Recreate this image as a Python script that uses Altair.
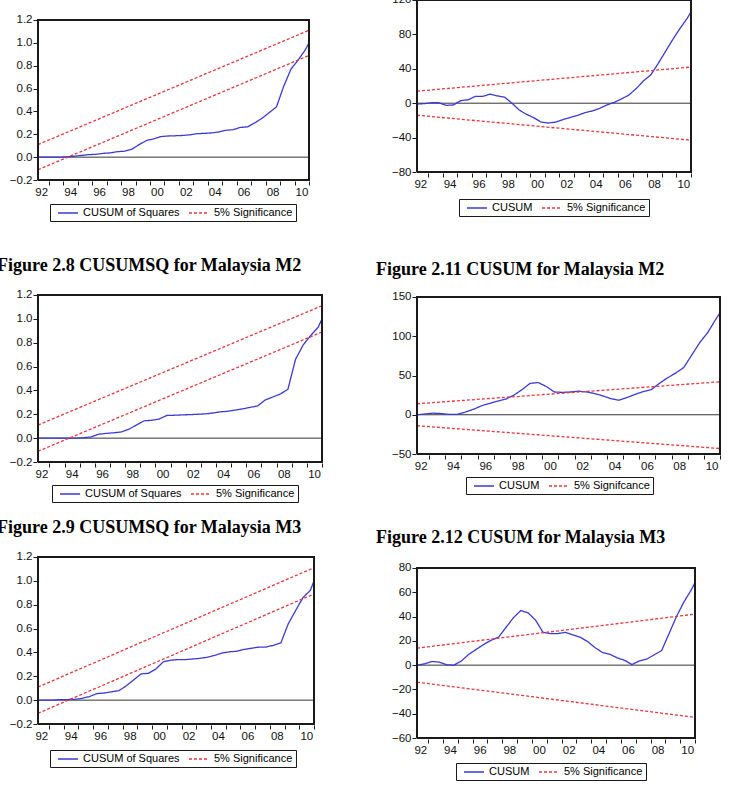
import altair as alt
import pandas as pd

# Observation dates (decimal years, half-yearly readings) and the test window
T = [1992.25, 1992.75, 1993.25, 1993.75, 1994.25, 1994.75, 1995.25, 1995.75,
     1996.25, 1996.75, 1997.25, 1997.75, 1998.25, 1998.75, 1999.25, 1999.75,
     2000.25, 2000.75, 2001.25, 2001.75, 2002.25, 2002.75, 2003.25, 2003.75,
     2004.25, 2004.75, 2005.25, 2005.75, 2006.25, 2006.75, 2007.25, 2007.75,
     2008.25, 2008.75, 2009.25, 2009.75, 2010.25, 2010.75, 2011.0]
T_ENDS = [1992.25, 2011.0]
YEAR_TICKS = list(range(1993, 2012))

# CUSUM of squares statistics
cusumsq_m1 = [0, 0, 0, 0, 0.003, 0.008, 0.015, 0.022, 0.025, 0.033, 0.037, 0.048,
              0.052, 0.07, 0.11, 0.145, 0.16, 0.18, 0.185, 0.187, 0.19, 0.195, 0.205,
              0.208, 0.212, 0.22, 0.235, 0.24, 0.26, 0.265, 0.3, 0.34, 0.39, 0.44,
              0.62, 0.77, 0.85, 0.94, 1.0]
cusumsq_m2 = [0, 0, 0, 0, 0, 0, 0.003, 0.01, 0.033, 0.04, 0.045, 0.052, 0.075, 0.11,
              0.145, 0.15, 0.16, 0.19, 0.192, 0.195, 0.197, 0.2, 0.203, 0.21, 0.22,
              0.225, 0.235, 0.245, 0.258, 0.27, 0.32, 0.345, 0.37, 0.41, 0.66, 0.78,
              0.86, 0.93, 1.0]
cusumsq_m3 = [0, 0, 0, 0.005, 0.005, 0.007, 0.015, 0.03, 0.055, 0.06, 0.07, 0.08,
              0.12, 0.17, 0.22, 0.225, 0.26, 0.32, 0.335, 0.34, 0.34, 0.345, 0.35,
              0.36, 0.375, 0.395, 0.405, 0.41, 0.425, 0.435, 0.445, 0.445, 0.46, 0.48,
              0.64, 0.75, 0.86, 0.92, 1.0]

# CUSUM statistics
cusum_m1 = [-1, -0.5, 0.5, 0.5, -2.5, -2, 3, 4, 8, 8, 10.5, 8.5, 7, 0, -8, -13, -17,
            -22, -23, -22, -19, -16.5, -14, -11, -9, -6, -2, 1, 5, 9.5, 17, 26, 33,
            46, 60, 74, 87, 99, 106]
cusum_m2 = [0, 1, 2, 1.5, 0.5, 0.5, 3.5, 7, 11.5, 14.5, 17.5, 20, 25, 32, 40, 41, 36,
            29, 28.5, 29, 30, 29, 27, 24, 20.5, 18.5, 22, 26, 29.5, 32, 40, 47, 53, 60,
            76, 92, 105, 122, 130]
cusum_m3 = [0, 1, 3, 2.5, 0.3, 0, 3.5, 9, 13, 17, 20.5, 23, 31, 39, 45, 43, 37, 27, 26,
            26, 27, 25, 23, 19.5, 14.5, 10.5, 9, 6, 4, 0.5, 3.5, 5, 8.5, 12, 26, 40,
            52, 62, 68]

# 5% significance bounds at the start and end of the window
SQ_UPPER = [0.11, 1.11]
SQ_LOWER = [-0.11, 0.89]
CS_UPPER = [14, 42]
CS_LOWER = [-14, -43]

SQ_TICKS = [-0.2, 0.0, 0.2, 0.4, 0.6, 0.8, 1.0, 1.2]
CS1_TICKS = [-80, -40, 0, 40, 80, 120]
CS2_TICKS = [-50, 0, 50, 100, 150]
CS3_TICKS = [-60, -40, -20, 0, 20, 40, 60, 80]

BLUE = "#3a3ad6"
RED = "#e8363c"
INK = "#1a1a1a"
SANS = "Liberation Sans, Arial, sans-serif"
SERIF = "Liberation Serif, Times New Roman, serif"
EDGE_PX = 1.0  # margin that keeps the 2px frame stroke inside the view


def panel(values, name, upper, lower, ydom, ticks, fmt, width, height, legend_xy,
          sig="5% Significance", caption=None, cap_offset=0, plot_top=0):
    lo, hi = ydom
    rows = [{"t": t, "v": v, "series": name, "part": "stat"} for t, v in zip(T, values)]
    rows += [{"t": t, "v": v, "series": sig, "part": "upper"} for t, v in zip(T_ENDS, upper)]
    rows += [{"t": t, "v": v, "series": sig, "part": "lower"} for t, v in zip(T_ENDS, lower)]
    df = pd.DataFrame(rows)

    # the plot frame, traced round the corners of the data window
    corners = [(T[0], lo), (T[0], hi), (T[-1], hi), (T[-1], lo), (T[0], lo)]
    frame_df = pd.DataFrame({"t": [c[0] for c in corners], "v": [c[1] for c in corners],
                             "k": list(range(len(corners)))})

    span_t = T[-1] - T[0]
    ex = span_t / width * EDGE_PX
    ey = (hi - lo) / (height - plot_top) * EDGE_PX
    if plot_top:
        yscale = alt.Scale(domain=[lo - ey, hi + ey], nice=False, zero=False,
                           range=[height, plot_top])
    else:
        yscale = alt.Scale(domain=[lo - ey, hi + ey], nice=False, zero=False)
    xscale = alt.Scale(domain=[T[0] - ex, T[-1] + ex], nice=False, zero=False)

    px_year = width / span_t
    xaxis = alt.Axis(values=YEAR_TICKS, title=None, grid=False, domain=False,
                     tickSize=4, tickColor=INK, labelPadding=1,
                     labelExpr="datum.value % 2 == 1 ? slice(toString(datum.value - 1), 2) : ''",
                     labelOffset=-px_year / 2 - 0.3, labelFlush=False, labelOverlap=False)
    yaxis = alt.Axis(values=ticks, format=fmt, title=None, grid=False, domain=False,
                     tickSize=4, tickColor=INK, labelPadding=1, labelFlush=False,
                     labelOverlap=False)
    # a 20px line sample that takes only 10px of row height
    legend = alt.Legend(orient="none", legendX=legend_xy[0], legendY=legend_xy[1],
                        direction="horizontal", title=None,
                        symbolType="M-2,0H2", symbolSize=100, symbolOffset=9,
                        symbolStrokeWidth=1.3, labelFont=SANS, labelFontSize=11,
                        labelColor="black", labelOffset=9, columnPadding=4, padding=3,
                        strokeColor=INK, fillColor="white", labelLimit=300)

    zero_df = pd.DataFrame({"t": [T[0], T[-1]], "v": [0, 0]})
    zero = alt.Chart(zero_df).mark_line(color="#333", strokeWidth=1).encode(
        x=alt.X("t:Q", scale=xscale, axis=xaxis),
        y=alt.Y("v:Q", scale=yscale, axis=yaxis),
    )
    lines = alt.Chart(df).mark_line(strokeWidth=1.3).encode(
        x=alt.X("t:Q", scale=xscale, axis=xaxis),
        y=alt.Y("v:Q", scale=yscale, axis=yaxis),
        color=alt.Color("series:N", scale=alt.Scale(domain=[name, sig], range=[BLUE, RED]),
                        legend=legend),
        strokeDash=alt.StrokeDash("series:N",
                                  scale=alt.Scale(domain=[name, sig], range=[[1, 0], [3, 2]]),
                                  legend=legend),
        detail="part:N",
    )
    frame = alt.Chart(frame_df).mark_line(color=INK, strokeWidth=2).encode(
        x=alt.X("t:Q", scale=xscale, axis=xaxis),
        y=alt.Y("v:Q", scale=yscale, axis=yaxis),
        order="k:Q",
    )
    props = dict(width=width, height=height)
    if caption:
        props["title"] = alt.TitleParams(text=caption, anchor="start", frame="group",
                                         offset=cap_offset, dx=-40, font=SERIF,
                                         fontSize=18, fontWeight="bold", color="black",
                                         baseline="alphabetic")
    return alt.layer(zero, lines, frame).properties(**props)


def stack(top, bottom, gap):
    return (alt.vconcat(top, bottom, spacing=gap)
            .resolve_scale(color="independent", strokeDash="independent")
            .resolve_legend(color="independent", strokeDash="independent"))


p1 = panel(cusumsq_m1, "CUSUM of Squares", SQ_UPPER, SQ_LOWER, [-0.2, 1.2], SQ_TICKS,
           ".1f", 273, 182, (13, 205), plot_top=20)
p3 = panel(cusumsq_m2, "CUSUM of Squares", SQ_UPPER, SQ_LOWER, [-0.2, 1.2], SQ_TICKS,
           ".1f", 286, 169, (15, 191), caption="Figure 2.8 CUSUMSQ for Malaysia M2",
           cap_offset=0)
p5 = panel(cusumsq_m3, "CUSUM of Squares", SQ_UPPER, SQ_LOWER, [-0.2, 1.2], SQ_TICKS,
           ".1f", 278, 169, (13, 194), caption="Figure 2.9 CUSUMSQ for Malaysia M3",
           cap_offset=0)
p2 = panel(cusum_m1, "CUSUM", CS_UPPER, CS_LOWER, [-80, 120], CS1_TICKS, "d",
           276, 174, (43, 200))
p4 = panel(cusum_m2, "CUSUM", CS_UPPER, CS_LOWER, [-50, 150], CS2_TICKS, "d",
           305, 159, (50, 181), sig="5% Signifcance",
           caption="Figure 2.11 CUSUM for Malaysia M2", cap_offset=-2)
p6 = panel(cusum_m3, "CUSUM", CS_UPPER, CS_LOWER, [-60, 80], CS3_TICKS, "d",
           280, 172, (40, 196), caption="Figure 2.12 CUSUM for Malaysia M3",
           cap_offset=1)

left = stack(p1, stack(p3, p5, 15), 34)
right = stack(p2, stack(p4, p6, 33), 43)

chart = (
    alt.hconcat(left, right, spacing=49)
    .resolve_scale(color="independent", strokeDash="independent")
    .resolve_legend(color="independent", strokeDash="independent")
    .properties(padding={"left": -3, "top": -7, "right": 0, "bottom": 0},
                background="white")
    .configure_view(strokeWidth=0)
    .configure_axis(labelFont=SANS, labelFontSize=11.5, labelColor="#111")
)

chart.save("out.html", embed_options={"renderer": "svg", "actions": False})
